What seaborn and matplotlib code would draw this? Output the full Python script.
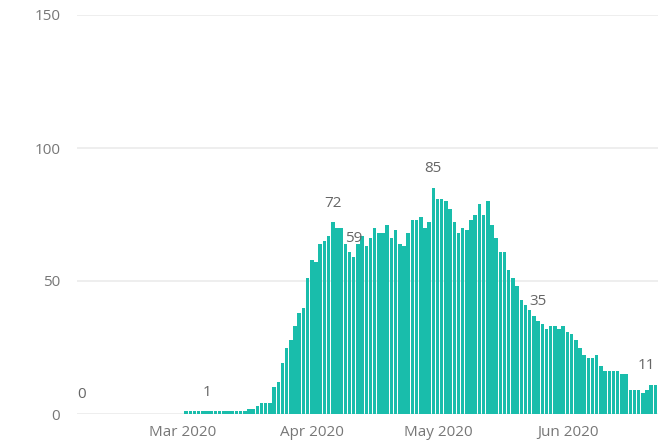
import matplotlib
matplotlib.use("Agg")
import matplotlib.pyplot as plt
import seaborn as sns
import pandas as pd

# ---- data ----
start_date = "2020-02-05"
end_date = "2020-06-21"
feb_values = [0, 0, 0, 0, 0, 0, 0, 0, 0, 0, 0, 0, 0, 0, 0, 0, 0, 0, 0, 0, 0, 0, 0, 0, 0]
mar_values = [1, 1, 1, 1, 1, 1, 1, 1, 1, 1, 1, 1, 1, 1, 1, 2, 2, 3, 4, 4,
              4, 10, 12, 19, 25, 28, 33, 38, 40, 51, 58]
apr_values = [57, 64, 65, 67, 72, 70, 70, 64, 61, 59, 64, 67, 63, 66, 70, 68,
              68, 71, 66, 69, 64, 63, 68, 73, 73, 74, 70, 72, 85, 81]
may_values = [81, 80, 77, 72, 68, 70, 69, 73, 75, 79, 75, 80, 71, 66, 61, 61,
              54, 51, 48, 43, 41, 39, 37, 35, 34, 32, 33, 33, 32, 33, 31]
jun_values = [30, 28, 25, 22, 21, 21, 22, 18, 16, 16, 16, 16, 15, 15, 9, 9,
              9, 8, 9, 11, 11]
month_ticks = ["2020-03-01", "2020-04-01", "2020-05-01", "2020-06-01"]
month_labels = ["Mar 2020", "Apr 2020", "May 2020", "Jun 2020"]
label_dates = ["2020-02-05", "2020-03-06", "2020-04-05", "2020-04-10",
               "2020-04-29", "2020-05-24", "2020-06-21"]

values = feb_values + mar_values + apr_values + may_values + jun_values
dates = pd.date_range(start_date, end_date, freq="D")
df = pd.DataFrame({"date": dates.strftime("%Y-%m-%d"), "value": values})

# ---- style ----
sns.set_style("white")
plt.rcParams["font.family"] = ["Open Sans", "DejaVu Sans"]

BAR = "#19BDAB"
TICK = "#777777"
LAB = "#666666"

fig = plt.figure(figsize=(6.66, 4.42), dpi=100)
ax = fig.add_axes([77 / 666, 1 - 414 / 442, (657.5 - 77) / 666, (414 - 15) / 442])

sns.barplot(data=df, x="date", y="value", color=BAR, saturation=1,
            width=0.84, errorbar=None, ax=ax, zorder=2, linewidth=0)

ax.set_ylim(0, 150)
ax.set_xlim(-1.03, len(df) - 0.5)
ax.set_yticks([0, 50, 100, 150])
ax.set_yticklabels(["0", "50", "100", "150"])

date_list = list(df["date"])
ax.set_xticks([date_list.index(d) - 0.9 for d in month_ticks])
ax.set_xticklabels(month_labels)

ax.set_xlabel("")
ax.set_ylabel("")
for s in ax.spines.values():
    s.set_visible(False)
ax.yaxis.grid(True, color="#ebebeb", linewidth=1.2, zorder=0)
ax.xaxis.grid(False)
ax.set_axisbelow(True)
ax.tick_params(axis="both", length=0, colors=TICK, labelsize=11)
ax.tick_params(axis="y", pad=12)
ax.tick_params(axis="x", pad=8)

for d in label_dates:
    i = date_list.index(d)
    v = values[i]
    dx = -6.5 if i == len(values) - 1 else 0
    ax.annotate(f"{v}", xy=(i, v), xytext=(dx, 13.7), textcoords="offset points",
                ha="center", va="center", color=LAB, fontsize=11)

fig.savefig("out.png", dpi=100)
